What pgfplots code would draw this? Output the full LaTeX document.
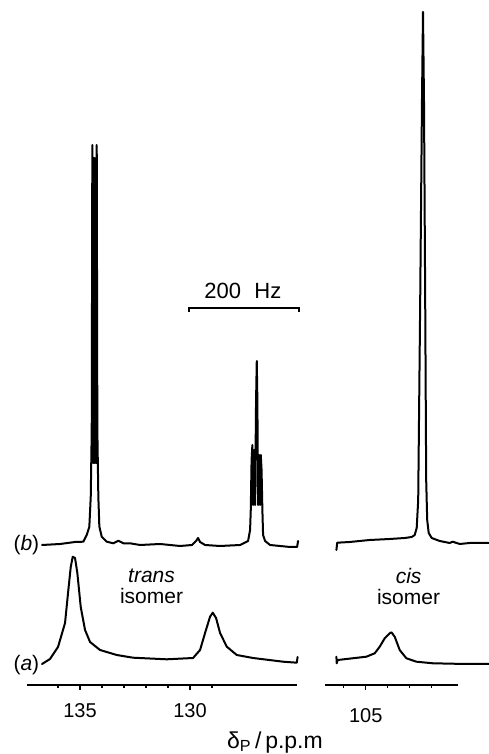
\documentclass[border=0pt]{standalone}
\usepackage{fontspec}
\setmainfont{Liberation Sans}
\usepackage{pgfplots}
\usepackage{pgfplotstable}
\pgfplotsset{compat=1.18}

% trace (b), trans region (ppm, intensity)
\pgfplotstableread{
ppm I
136.727 118
135.909 119
135.227 121
134.850 121.3
134.695 128
134.577 136.3
134.513 166.3
134.468 233
134.441 518
134.410 200
134.385 505
134.360 200
134.335 505
134.310 200
134.285 505
134.260 200
134.241 518
134.213 233
134.168 166.3
134.122 136.3
134.013 126.3
133.786 121.3
133.486 119.7
133.259 122.3
133.031 119.7
132.727 119.7
132.272 118
131.363 119
130.454 117
129.909 118
129.727 122
129.636 125
129.545 121
129.318 118
128.636 117
127.727 118
127.363 122
127.272 133
127.241 153
127.204 203
127.168 218
127.136 158
127.091 213
127.045 158
127.000 263
126.968 302
126.941 263
126.909 158
126.863 208
126.818 158
126.786 208
126.750 193
126.713 153
126.681 128
126.591 122
126.363 118
125.909 117
125.454 116
125.136 116
125.091 122
}\transB

% trace (b), cis region
\pgfplotstableread{
ppm I
106.331 113
106.295 120.3
105.727 121
104.818 123
103.909 124
103.227 125
102.909 126
102.772 128
102.681 135
102.613 163
102.522 363
102.441 563
102.395 651
102.350 563
102.295 363
102.250 183
102.204 143
102.136 130
102.000 125
101.636 122
101.181 120
101.045 121.3
100.727 119
100.272 120
99.409 120
}\cisB

% trace (a), trans region
\pgfplotstableread{
ppm I
136.727 -1
136.364 4
136.000 16
135.681 40
135.531 73
135.422 96
135.331 106.3
135.227 105
135.122 90
134.968 56
134.772 33
134.545 21
134.091 13
133.331 8
132.591 5.3
131.059 3.7
129.863 5
129.545 13
129.318 30
129.091 46.3
128.968 50.3
128.818 45
128.636 30
128.331 16.3
127.877 8
127.136 5
125.772 1.3
125.150 0.3
125.113 6
}\transA

% trace (a), cis region
\pgfplotstableread{
ppm I
106.331 6.3
106.318 -0.3
106.272 3
104.968 6.3
104.591 9.7
104.363 16.3
104.136 24.7
103.909 29.7
103.831 30.7
103.681 26.3
103.454 13
103.150 4.7
102.695 1.3
101.941 -0.3
100.422 -1
99.409 -1
}\cisA

\begin{document}
\begin{tikzpicture}
\useasboundingbox (0,0) rectangle (489bp,754bp);
\pgfplotsset{
  nmr/.style={
    scale only axis, height=685bp, ymin=-22, ymax=663,
    x dir=reverse, axis x line=bottom, axis y line=none,
    x axis line style={-, line width=1.6bp},
    tick align=outside, major tick length=5bp, minor tick length=3bp,
    tick style={black, line width=1.3bp},
    clip=false, anchor=south west,
    xticklabel style={font=\fontsize{20bp}{22bp}\selectfont, yshift=-10bp},
    /pgf/number format/assume math mode=true,
    /pgf/number format/1000 sep={},
  },
  trace/.style={black, line width=2bp, line join=round, line cap=round, mark=none},
}
\newcommand{\lbl}{\fontsize{21bp}{21bp}\selectfont}
\begin{axis}[nmr, at={(27bp,69bp)}, width=270bp, xmin=125.14, xmax=137.41,
  xtick={130,135}, minor xtick={129,131,132,133,134,136}]
  \addplot[trace] table[x=ppm,y=I] {\transB};
  \addplot[trace] table[x=ppm,y=I] {\transA};
  \node[anchor=east, font=\fontsize{21bp}{22bp}\selectfont, inner sep=1bp] at (axis cs:136.80,118) {(\textit{b})};
  \node[anchor=east, font=\fontsize{21bp}{22bp}\selectfont, inner sep=1bp] at (axis cs:136.80,-2) {(\textit{a})};
  \node[align=center, font=\lbl, inner sep=0pt] at (axis cs:131.75,77) {\textit{trans}\\isomer};
  \draw[line width=1.4bp] (axis cs:130.05,351) -- (axis cs:130.05,355) -- (axis cs:125.05,355) -- (axis cs:125.05,351);
  \node[anchor=base, font=\fontsize{22bp}{22bp}\selectfont] at (axis cs:127.6,364) {200\hspace{0.6em}Hz};
\end{axis}
\begin{axis}[nmr, at={(325bp,69bp)}, width=133.3bp, xmin=100.79, xmax=106.85,
  xtick={105}, minor xtick={102,103,104,106},
  xticklabel style={yshift=-5bp}]
  \addplot[trace] table[x=ppm,y=I] {\cisB};
  \addplot[trace] table[x=ppm,y=I] {\cisA};
  \node[align=center, font=\lbl, inner sep=0pt] at (axis cs:103.05,77) {\textit{cis}\\isomer};
\end{axis}
\node[anchor=base, font=\fontsize{23bp}{22bp}\selectfont] at (275bp,6bp) {δ\textsubscript{P}\,/\,p.p.m};
\end{tikzpicture}
\end{document}
